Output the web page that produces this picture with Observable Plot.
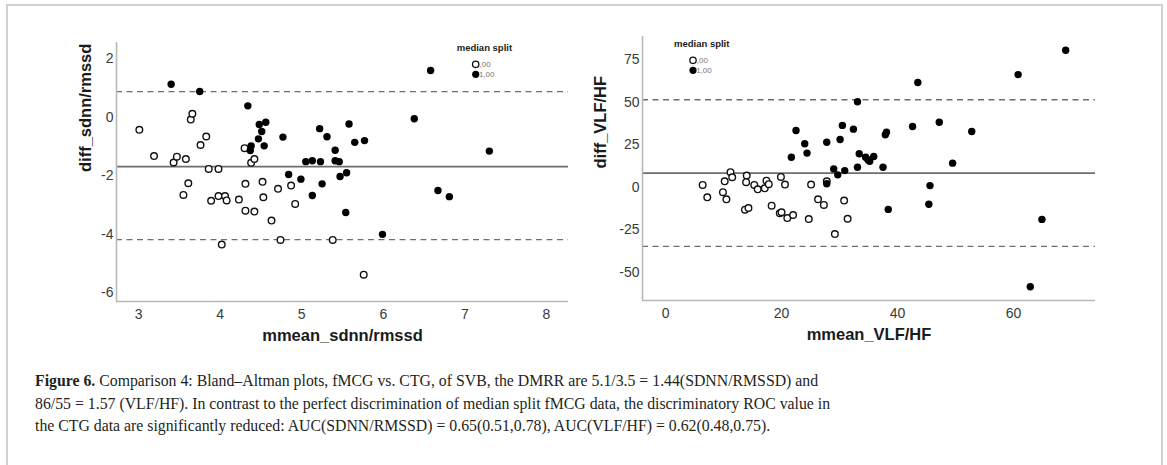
<!DOCTYPE html>
<html>
<head>
<meta charset="utf-8">
<script src="https://cdn.jsdelivr.net/npm/d3@7"></script>
<script src="https://cdn.jsdelivr.net/npm/@observablehq/plot@0.6"></script>
<style>
  html, body { margin: 0; padding: 0; background: #fff; }
  body { width: 1167px; height: 465px; overflow: hidden; position: relative; font-family: "Liberation Sans", Arial, sans-serif; }
  #frame { position: absolute; left: 6px; top: 4px; width: 1157px; height: 480px; border: 2px solid #d0d0d0; border-bottom: none; box-sizing: border-box; }
  #left { position: absolute; left: 0; top: 0; }
  #right { position: absolute; left: 580px; top: 0; }
  .legend { position: absolute; }
  #caption { position: absolute; left: 35px; top: 370px; font-family: "Liberation Serif", "Times New Roman", serif; font-size: 15.8px; line-height: 22.7px; color: #231f20; white-space: nowrap; }
</style>
</head>
<body>
<div id="frame"></div>
<div id="left"></div>
<div id="right"></div>
<div id="legendLeft" class="legend" style="left:440px;top:36px"></div>
<div id="legendRight" class="legend" style="left:656px;top:32px"></div>
<div id="caption"></div>
<script>
// ---------- Left panel: SDNN/RMSSD ----------
const sdnnTitleX = "mmean_sdnn/rmssd";
const sdnnTitleY = "diff_sdnn/rmssd";
const sdnnXTicks = [3, 4, 5, 6, 7, 8];
const sdnnYTicks = [-6, -4, -2, 0, 2];
const sdnnXDomain = [2.73, 8.27];
const sdnnYDomain = [-6.31, 2.56];
const sdnnBias = [-1.69];
const sdnnLimits = [0.88, -4.19];
// median split = ,00 (open circles)
const sdnnMean0 = [3.01, 3.19, 3.43, 3.47, 3.58, 3.55, 3.61, 3.64, 3.66, 3.76, 3.83, 3.86, 3.98, 3.89, 3.98, 4.06, 4.08, 4.02, 4.23, 4.31, 4.31, 4.42, 4.30, 4.38, 4.42, 4.52, 4.53, 4.63, 4.71, 4.74, 4.87, 4.92, 5.38, 5.76];
const sdnnDiff0 = [-0.43, -1.33, -1.55, -1.35, -1.43, -2.66, -2.26, -0.08, 0.12, -0.95, -0.66, -1.77, -1.77, -2.86, -2.70, -2.70, -2.85, -4.36, -2.82, -2.28, -3.20, -3.23, -1.06, -1.56, -1.43, -2.21, -2.74, -3.54, -2.45, -4.20, -2.34, -2.97, -4.20, -5.39];
// median split = 1,00 (filled circles)
const sdnnMean1 = [3.40, 3.75, 4.34, 4.48, 4.56, 4.51, 4.47, 4.54, 4.38, 4.37, 4.77, 4.84, 4.99, 5.05, 5.13, 5.23, 5.13, 5.25, 5.22, 5.31, 5.41, 5.41, 5.46, 5.47, 5.55, 5.54, 5.58, 5.65, 5.77, 5.99, 6.58, 6.38, 7.30, 6.67, 6.81];
const sdnnDiff1 = [1.13, 0.88, 0.39, -0.25, -0.17, -0.49, -0.74, -0.98, -0.98, -1.14, -0.68, -1.96, -2.12, -1.52, -1.49, -1.52, -2.68, -2.28, -0.39, -0.67, -1.13, -1.49, -1.52, -2.03, -1.90, -3.26, -0.23, -0.86, -0.80, -4.01, 1.60, -0.05, -1.16, -2.51, -2.72];

// ---------- Right panel: VLF/HF ----------
const vlfTitleX = "mmean_VLF/HF";
const vlfTitleY = "diff_VLF/HF";
const vlfXTicks = [0, 20, 40, 60];
const vlfYTicks = [-50, -25, 0, 25, 50, 75];
const vlfXDomain = [-3.97, 74.14];
const vlfYDomain = [-66.6, 88.7];
const vlfBias = [8.3];
const vlfLimits = [51.5, -34.8];
const vlfMean0 = [6.4, 7.2, 9.9, 10.5, 10.2, 11.2, 11.5, 13.7, 14.3, 14.0, 13.9, 15.3, 15.9, 17.1, 17.4, 17.8, 18.3, 19.7, 20.0, 21.0, 22.0, 19.9, 20.6, 24.7, 25.1, 26.3, 27.3, 27.8, 29.2, 30.8, 31.4];
const vlfDiff0 = [1.4, -5.9, -2.9, -7.1, 3.5, 8.9, 5.9, -13.2, -12.2, 6.9, 3.0, 1.4, -1.2, -0.6, 3.9, 1.8, -10.8, -15.3, -14.7, -18.1, -16.3, 6.1, 1.6, -18.7, 1.6, -7.1, -10.4, 3.5, -27.5, -7.8, -18.5];
const vlfMean1 = [21.7, 22.5, 24.0, 24.4, 27.8, 27.8, 29.0, 29.7, 30.9, 30.1, 30.5, 32.4, 33.1, 33.1, 33.4, 34.5, 34.9, 35.2, 35.9, 37.5, 37.9, 38.1, 38.4, 42.6, 43.5, 47.2, 45.6, 45.4, 49.5, 52.8, 60.8, 69.0, 64.9, 62.9];
const vlfDiff1 = [17.7, 33.4, 25.6, 20.1, 26.5, 2.1, 10.8, 7.3, 9.8, 28.1, 36.4, 34.2, 50.3, 11.8, 19.7, 17.7, 16.2, 15.3, 18.1, 11.8, 30.9, 32.4, -13.0, 35.8, 61.6, 38.3, 1.0, -10.0, 14.2, 32.8, 66.3, 80.6, -18.9, -58.5];

// ---------- Legend / caption text ----------
const legendTitle = "median split";
const legendLabels = [",00", "1,00"];
const captionLines = [
  ["Figure 6.", " Comparison 4: Bland\u2013Altman plots, fMCG vs. CTG, of SVB, the DMRR are 5.1/3.5 = 1.44(SDNN/RMSSD) and"],
  ["", "86/55 = 1.57 (VLF/HF). In contrast to the perfect discrimination of median split fMCG data, the discriminatory ROC value in"],
  ["", "the CTG data are significantly reduced: AUC(SDNN/RMSSD) = 0.65(0.51,0.78), AUC(VLF/HF) = 0.62(0.48,0.75)."]
];

const zip = (xs, ys) => xs.map((x, i) => ({x, y: ys[i]}));
const fmtTick = d => String(d);

function blandAltman(cfg) {
  const open = zip(cfg.mean0, cfg.diff0);
  const filled = zip(cfg.mean1, cfg.diff1);
  return Plot.plot({
    width: cfg.width, height: 360,
    marginLeft: cfg.ml, marginRight: cfg.mr, marginTop: cfg.mt, marginBottom: cfg.mb,
    style: {fontFamily: "'Liberation Sans', Arial, sans-serif", fontSize: "14px", color: "#3a3a3a", background: "transparent", overflow: "visible"},
    x: {domain: cfg.xDomain, nice: false, zero: false},
    y: {domain: cfg.yDomain, nice: false, zero: false},
    marks: [
      Plot.axisX({ticks: cfg.xTicks, tickFormat: fmtTick, tickSize: 0, tickPadding: 8, label: null, fontSize: 14}),
      Plot.axisY({ticks: cfg.yTicks, tickFormat: fmtTick, tickSize: 0, tickPadding: 3, label: null, fontSize: 14}),
      Plot.ruleY(cfg.limits, {stroke: "#6e6e6e", strokeWidth: 1.3, strokeDasharray: "6,4.5"}),
      Plot.ruleY(cfg.bias, {stroke: "#6e6e6e", strokeWidth: 1.6}),
      Plot.ruleX([cfg.xDomain[0]], {stroke: "#b8b8b8", strokeWidth: 1.6}),
      Plot.ruleY([cfg.yDomain[0]], {stroke: "#b8b8b8", strokeWidth: 1.6}),
      Plot.dot(open, {x: "x", y: "y", r: 3.3, stroke: "#111", strokeWidth: 1.4, fill: "white"}),
      Plot.dot(filled, {x: "x", y: "y", r: 3.7, fill: "#000", stroke: "none"}),
      Plot.text([cfg.titleX], {frameAnchor: "bottom", dy: 39, fontWeight: "bold", fontSize: 16.5, fill: "#1a1a1a"}),
      Plot.text([cfg.titleY], {frameAnchor: "left", dx: cfg.titleYdx, rotate: -90, fontWeight: "bold", fontSize: 16.5, fill: "#1a1a1a"})
    ]
  });
}

document.getElementById("left").append(blandAltman({
  width: 580, ml: 116, mr: 12, mt: 42, mb: 59,
  xDomain: sdnnXDomain, yDomain: sdnnYDomain, xTicks: sdnnXTicks, yTicks: sdnnYTicks,
  bias: sdnnBias, limits: sdnnLimits,
  mean0: sdnnMean0, diff0: sdnnDiff0, mean1: sdnnMean1, diff1: sdnnDiff1,
  titleX: sdnnTitleX, titleY: sdnnTitleY, titleYdx: -31
}));

document.getElementById("right").append(blandAltman({
  width: 587, ml: 62, mr: 72, mt: 36, mb: 60,
  xDomain: vlfXDomain, yDomain: vlfYDomain, xTicks: vlfXTicks, yTicks: vlfYTicks,
  bias: vlfBias, limits: vlfLimits,
  mean0: vlfMean0, diff0: vlfDiff0, mean1: vlfMean1, diff1: vlfDiff1,
  titleX: vlfTitleX, titleY: vlfTitleY, titleYdx: -42
}));

function legendSVG(cx) {
  return `<svg width="90" height="50" xmlns="http://www.w3.org/2000/svg" font-family="Liberation Sans, Arial, sans-serif">
    <text x="${cx - 19}" y="15" font-size="9.5" font-weight="bold" fill="#222">${legendTitle}</text>
    <circle cx="${cx}" cy="28.3" r="3.2" fill="white" stroke="#111" stroke-width="1.3"/>
    <circle cx="${cx}" cy="38.3" r="3.6" fill="#000"/>
    <text x="${cx + 3.8}" y="31" font-size="8" fill="#777">${legendLabels[0]}</text>
    <text x="${cx + 3.2}" y="41" font-size="8" fill="#777">${legendLabels[1]}</text>
  </svg>`;
}
document.getElementById("legendLeft").innerHTML = legendSVG(35.7);
document.getElementById("legendRight").innerHTML = legendSVG(37);

document.getElementById("caption").innerHTML = captionLines
  .map(([b, t]) => (b ? `<b>${b}</b>` : "") + t)
  .join("<br>");
</script>
</body>
</html>
